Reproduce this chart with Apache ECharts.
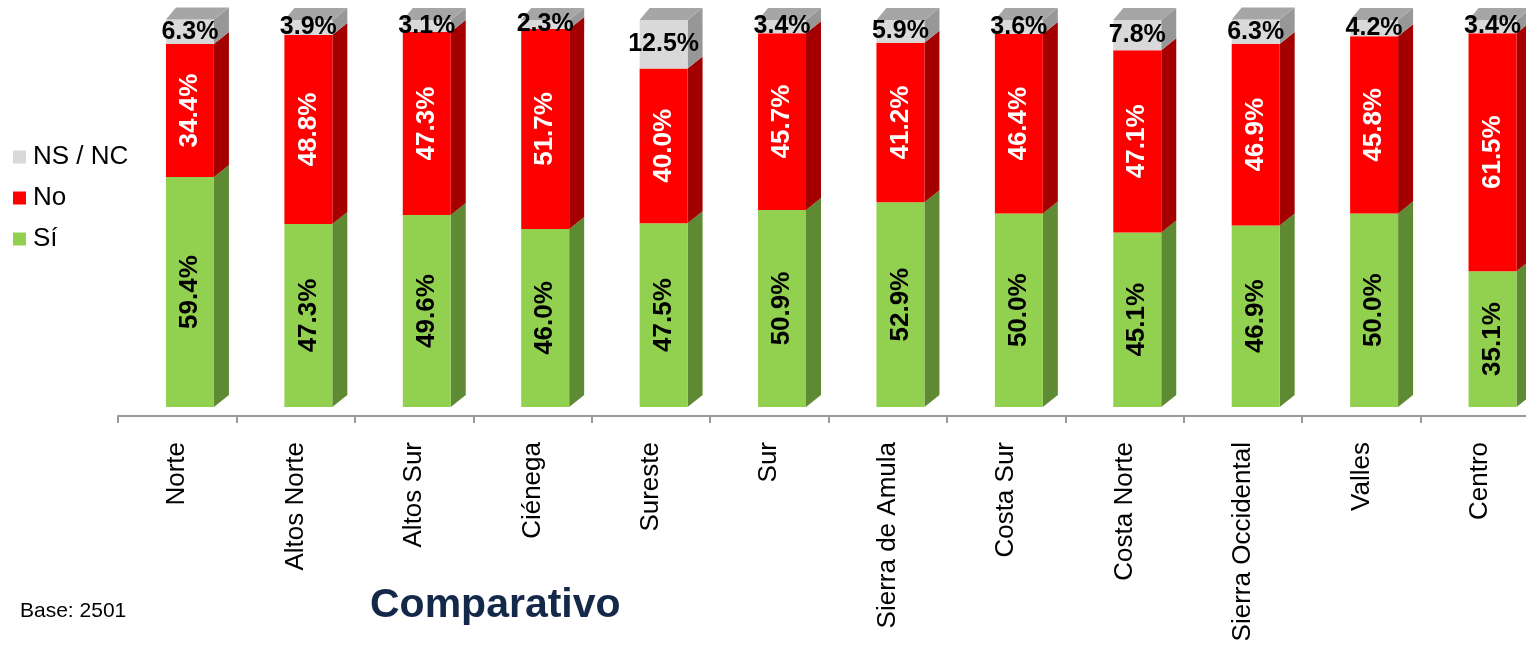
<!DOCTYPE html>
<html>
<head>
<meta charset="utf-8">
<script src="https://cdn.jsdelivr.net/npm/echarts@6/dist/echarts.min.js"></script>
<style>
html,body{margin:0;padding:0;background:#fff;}
#chart{width:1526px;height:646px;}
</style>
</head>
<body>
<div id="chart"></div>
<script>
const categories = ['Norte','Altos Norte','Altos Sur','Ciénega','Sureste','Sur','Sierra de Amula','Costa Sur','Costa Norte','Sierra Occidental','Valles','Centro'];
const siValues = [59.4, 47.3, 49.6, 46.0, 47.5, 50.9, 52.9, 50.0, 45.1, 46.9, 50.0, 35.1];
const noValues = [34.4, 48.8, 47.3, 51.7, 40.0, 45.7, 41.2, 46.4, 47.1, 46.9, 45.8, 61.5];
const nsValues = [6.3, 3.9, 3.1, 2.3, 12.5, 3.4, 5.9, 3.6, 7.8, 6.3, 4.2, 3.4];
const seriesNames = ['Sí', 'No', 'NS / NC'];

const FONT = '"Liberation Sans", Arial, Helvetica, sans-serif';

function stackData(vals, lowers) {
  return vals.map((v, i) => {
    let base = 0;
    lowers.forEach(arr => { base += arr[i]; });
    return [i, base, base + v, v];
  });
}

function makeRender(cfg) {
  return function (params, api) {
    const cat = api.value(0), b = api.value(1), t = api.value(2), v = api.value(3);
    const pb = api.coord([cat, b]);
    const pt = api.coord([cat, t]);
    const band = api.size([1, 0])[0];
    const w = band * 0.405;
    const x = pb[0] - band / 2 + band * 0.405;
    const yB = pb[1], yT = pt[1];
    const dx = 15, dy = 12;
    const children = [];
    children.push({
      type: 'polygon',
      shape: { points: [[x + w, yT], [x + w + dx, yT - dy], [x + w + dx, yB - dy], [x + w, yB]] },
      style: { fill: cfg.side }
    });
    children.push({
      type: 'rect',
      shape: { x: x, y: yT, width: w, height: yB - yT },
      style: { fill: cfg.front }
    });
    if (cfg.top) {
      children.push({
        type: 'polygon',
        shape: { points: [[x, yT], [x + 10, yT - dy], [x + w + dx, yT - dy], [x + w, yT]] },
        style: { fill: cfg.top }
      });
    }
    const cx = x + w / 2, cy = (yT + yB) / 2;
    children.push({
      type: 'text',
      x: cx, y: cy,
      rotation: cfg.rotate ? Math.PI / 2 : 0,
      z2: 10,
      style: {
        text: v.toFixed(1) + '%',
        fill: cfg.labelColor,
        font: 'bold ' + cfg.fontSize + 'px ' + FONT,
        align: 'center',
        verticalAlign: 'middle'
      }
    });
    return { type: 'group', children: children };
  };
}

const chart = echarts.init(document.getElementById('chart'), null, { renderer: 'canvas' });
const option = {
  backgroundColor: '#ffffff',
  animation: false,
  grid: { left: 118, top: 20, width: 1421, height: 387, outerBoundsMode: 'none', containLabel: false },
  legend: {
    orient: 'vertical',
    left: 13, top: 143,
    padding: 0,
    itemWidth: 13, itemHeight: 13,
    itemGap: 13,
    icon: 'rect',
    data: ['NS / NC', 'No', 'Sí'],
    textStyle: { fontSize: 26, color: '#000', fontFamily: FONT, lineHeight: 28, padding: [0, 0, 0, 2] }
  },
  xAxis: {
    type: 'category',
    data: categories,
    offset: 9,
    boundaryGap: true,
    axisLine: { show: true, onZero: false, lineStyle: { color: '#9a9a9a', width: 2 } },
    axisTick: { show: true, length: 7, interval: 0, lineStyle: { color: '#9a9a9a', width: 2 } },
    axisLabel: { rotate: 90, interval: 0, margin: 26, fontSize: 26, color: '#000', fontFamily: FONT }
  },
  yAxis: { type: 'value', min: 0, max: 100, show: false, splitLine: { show: false } },
  graphic: [
    { type: 'text', left: 20, top: 601, style: { text: 'Base: 2501', font: '21px ' + FONT, fill: '#000' } },
    { type: 'text', left: 370, top: 585, style: { text: 'Comparativo', font: 'bold 41px ' + FONT, fill: '#14284a' } }
  ],
  series: [
    {
      name: seriesNames[0], type: 'custom', itemStyle: { color: '#92d050' },
      encode: { x: 0, y: [1, 2] },
      renderItem: makeRender({ front: '#92d050', side: '#5f8a34', labelColor: '#000', rotate: true, fontSize: 26 }),
      data: stackData(siValues, [])
    },
    {
      name: seriesNames[1], type: 'custom', itemStyle: { color: '#ff0000' },
      encode: { x: 0, y: [1, 2] },
      renderItem: makeRender({ front: '#ff0000', side: '#a40000', labelColor: '#fff', rotate: true, fontSize: 26 }),
      data: stackData(noValues, [siValues])
    },
    {
      name: seriesNames[2], type: 'custom', itemStyle: { color: '#d9d9d9' },
      encode: { x: 0, y: [1, 2] },
      renderItem: makeRender({ front: '#d9d9d9', side: '#979797', top: '#a6a6a6', labelColor: '#000', rotate: false, fontSize: 25 }),
      data: stackData(nsValues, [siValues, noValues])
    }
  ]
};
chart.setOption(option);
</script>
</body>
</html>
